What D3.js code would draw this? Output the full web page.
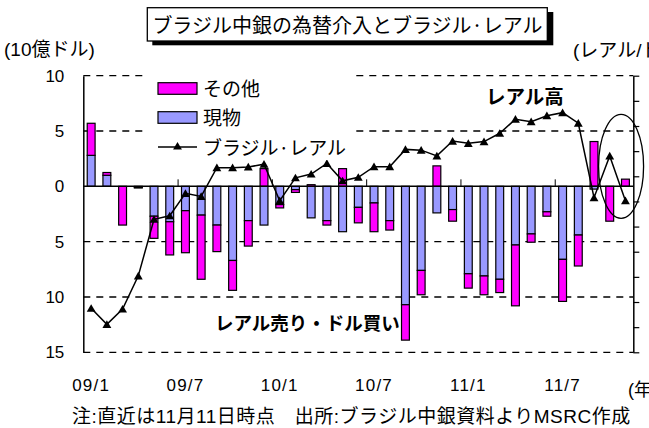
<!DOCTYPE html>
<html lang="ja"><head>
<meta charset="utf-8">
<title>ブラジル中銀の為替介入とブラジル・レアル</title>
<script src="https://cdn.jsdelivr.net/npm/d3@7"></script>
<style>
body { margin: 0; background: #fff; }
text { font-family: "Liberation Sans", "Noto Sans CJK JP", sans-serif; fill: #000; }
</style>
</head>
<body>
<script>
// month categories
var months = ["09/1","09/2","09/3","09/4","09/5","09/6","09/7","09/8","09/9","09/10","09/11","09/12",
              "10/1","10/2","10/3","10/4","10/5","10/6","10/7","10/8","10/9","10/10","10/11","10/12",
              "11/1","11/2","11/3","11/4","11/5","11/6","11/7","11/8","11/9","11/10","11/11"];
// 現物 (10億ドル)
var spot = [2.8, 1.0, 0, -0.1, -2.7, -3.2, -2.2, -2.6, -3.5, -6.7, -3.1, -3.5,
            -1.65, -0.3, -2.85, -3.1, -4.1, -1.9, -1.5, -3.1, -10.7, -7.6, -2.4, -2.1,
            -7.9, -8.1, -8.4, -5.3, -4.3, -2.3, -6.6, -4.4, -0.25, 0, 0];
// その他 (10億ドル)
var other = [2.9, 0.25, -3.5, -0.05, -2.0, -3.0, -3.8, -5.8, -2.4, -2.7, -2.3, 1.6,
             -0.3, -0.25, 0.15, -0.4, 1.6, -1.4, -2.6, -0.85, -3.2, -2.2, 1.85, -1.05,
             -1.3, -1.7, -1.2, -5.5, -0.75, -0.4, -3.8, -2.8, 4.05, -3.15, 0.65];
// ブラジル・レアル (レアル/ドル, 右軸・反転)
var real = [2.325, 2.389, 2.328, 2.196, 1.971, 1.957, 1.868, 1.88, 1.766, 1.766, 1.763, 1.752,
            1.897, 1.806, 1.791, 1.749, 1.818, 1.804, 1.762, 1.762, 1.693, 1.696, 1.719, 1.66,
            1.669, 1.662, 1.629, 1.573, 1.583, 1.559, 1.547, 1.589, 1.885, 1.719, 1.897];
var leftTicks = [10, 5, 0, -5, -10, -15];
var rightTicks = [1.4, 1.5, 1.6, 1.7, 1.8, 1.9, 2.0, 2.1, 2.2, 2.3, 2.4, 2.5];
var xLabels = ["09/1", "09/7", "10/1", "10/7", "11/1", "11/7"];

var width = 649, height = 428;
var plotL = 83.3, plotR = 633.3, plotT = 75.7, plotB = 352.3;

var svg = d3.select("body").append("svg")
    .attr("width", width).attr("height", height);

var x = d3.scaleBand().domain(months).range([plotL, plotR])
    .paddingInner(0.5).paddingOuter(0.25);
var bw = x.bandwidth();
var xi = d3.scaleLinear().domain([0, months.length]).range([plotL, plotR]);
var yL = d3.scaleLinear().domain([-15, 10]).range([plotB, plotT]);
var yR = d3.scaleLinear().domain([2.5, 1.4]).range([plotB, plotT]);

var rows = months.map(function(m, i){ return {month: m, spot: spot[i], other: other[i], real: real[i]}; });

// dashed grid lines
svg.append("g").selectAll("line")
    .data(leftTicks.filter(function(d){ return d !== 0; })).enter()
    .append("line")
    .attr("x1", plotL).attr("x2", plotR)
    .attr("y1", function(d){ return yL(d); }).attr("y2", function(d){ return yL(d); })
    .attr("stroke", "#000").attr("stroke-width", 1.3)
    .attr("stroke-dasharray", "7,6");

// annotations (bars are drawn over them)
svg.append("text").attr("x", 215).attr("y", 330)
    .attr("font-size", 18.5).attr("font-weight", "bold")
    .style("font-family", "'Noto Sans CJK JP'")
    .text("レアル売り・ドル買い");
svg.append("text").attr("x", 486).attr("y", 104)
    .attr("font-size", 19.5).attr("font-weight", "bold")
    .style("font-family", "'Noto Sans CJK JP'")
    .text("レアル高");

// stacked bars
var stack = d3.stack().keys(["spot", "other"]).offset(d3.stackOffsetDiverging);
var series = stack(rows);
var colors = {spot: "#9999ff", other: "#ff00ff"};

svg.append("g").selectAll("g")
    .data(series).enter().append("g")
    .attr("fill", function(s){ return colors[s.key]; })
    .selectAll("rect")
    .data(function(s){ return s.filter(function(d){ return d[1] - d[0] !== 0; }); }).enter()
    .append("rect")
    .attr("x", function(d){ return x(d.data.month); })
    .attr("width", bw)
    .attr("y", function(d){ return yL(Math.max(d[0], d[1])); })
    .attr("height", function(d){ return Math.abs(yL(d[0]) - yL(d[1])); })
    .attr("stroke", "#000").attr("stroke-width", 1.2);

// zero line
svg.append("line")
    .attr("x1", plotL).attr("x2", plotR)
    .attr("y1", yL(0)).attr("y2", yL(0))
    .attr("stroke", "#000").attr("stroke-width", 1.5);

// small ticks on zero line
svg.append("g")
    .attr("transform", "translate(0," + yL(0) + ")")
    .call(d3.axisBottom(xi).tickValues([6, 12, 18, 24, 30]).tickSize(-7).tickFormat(""))
    .call(function(g){ g.select(".domain").remove(); });

// left axis
svg.append("g")
    .attr("transform", "translate(" + plotL + ",0)")
    .call(d3.axisLeft(yL).tickValues(leftTicks).tickSize(0).tickPadding(19)
          .tickFormat(function(d){ return Math.abs(d); }))
    .call(function(g){
      g.select(".domain").attr("stroke-width", 1.5);
      g.selectAll("text").attr("font-size", 17).style("font-family", "'Liberation Sans'");
    });

// right axis
svg.append("g")
    .attr("transform", "translate(" + plotR + ",0)")
    .call(d3.axisRight(yR).tickValues(rightTicks).tickSize(6).tickSizeOuter(0).tickFormat(""))
    .call(function(g){
      g.select(".domain").attr("stroke-width", 1.5);
      g.selectAll(".tick line").attr("stroke-width", 1.2);
    });

// x labels
svg.append("g")
    .attr("transform", "translate(0," + (plotB + 20) + ")")
    .call(d3.axisBottom(x).tickValues(xLabels).tickSize(0).tickPadding(0))
    .call(function(g){
      g.select(".domain").remove();
      g.selectAll("text").attr("font-size", 17).attr("dy", "1.1em")
        .attr("letter-spacing", 1.2)
        .style("font-family", "'Liberation Sans'");
    });

// real line
var line = d3.line()
    .x(function(d){ return x(d.month) + bw / 2; })
    .y(function(d){ return yR(d.real); });
svg.append("path").datum(rows)
    .attr("d", line)
    .attr("fill", "none").attr("stroke", "#000").attr("stroke-width", 1.5);
svg.append("g").selectAll("path")
    .data(rows).enter().append("path")
    .attr("d", d3.symbol(d3.symbolTriangle, 34))
    .attr("transform", function(d){ return "translate(" + (x(d.month) + bw / 2) + "," + (yR(d.real) + 1) + ")"; })
    .attr("fill", "#000");

// ellipse around recent months
svg.append("ellipse")
    .attr("cx", (x("11/10") + x("11/11")) / 2 + bw / 2 + 3.5)
    .attr("cy", 166.3).attr("rx", 22.5).attr("ry", 52)
    .attr("fill", "none").attr("stroke", "#000").attr("stroke-width", 1.3);

// legend
var legend = svg.append("g");
legend.append("rect").attr("x", 148).attr("y", 68).attr("width", 204).attr("height", 92)
    .attr("fill", "#fff");
var legItems = [{label: "その他", key: "other", y: 88.5}, {label: "現物", key: "spot", y: 117.5}];
legItems.forEach(function(it){
  legend.append("rect").attr("x", 158).attr("y", it.y - 5.8).attr("width", 39).attr("height", 11.6)
      .attr("fill", colors[it.key]).attr("stroke", "#000").attr("stroke-width", 1.2);
  legend.append("text").attr("x", 203).attr("y", it.y + 7.5)
      .attr("font-size", 19).style("font-family", "'Noto Sans CJK JP'").text(it.label);
});
legend.append("line").attr("x1", 158).attr("x2", 197).attr("y1", 147).attr("y2", 147)
    .attr("stroke", "#000").attr("stroke-width", 1.5);
legend.append("path").attr("d", d3.symbol(d3.symbolTriangle, 34))
    .attr("transform", "translate(177.5,147)");
legend.append("text").attr("x", 203).attr("y", 155)
    .attr("font-size", 19).style("font-family", "'Noto Sans CJK JP'").text("ブラジル·レアル");

// title box with shadow
svg.append("rect").attr("x", 152.3).attr("y", 12).attr("width", 401).attr("height", 33.3).attr("fill", "#000");
svg.append("rect").attr("x", 147.3).attr("y", 7.7).attr("width", 400).attr("height", 33.3)
    .attr("fill", "#fff").attr("stroke", "#000").attr("stroke-width", 1.3);
svg.append("text").attr("x", 347.5).attr("y", 33).attr("text-anchor", "middle")
    .attr("font-size", 20).style("font-family", "'Noto Sans CJK JP'")
    .text("ブラジル中銀の為替介入とブラジル·レアル");

// axis unit labels
svg.append("text").attr("x", 4).attr("y", 56).attr("font-size", 19).text("(10億ドル)");
svg.append("text").attr("x", 573).attr("y", 57).attr("font-size", 19).text("(レアル/ドル)");
svg.append("text").attr("x", 628).attr("y", 396).attr("font-size", 18).text("(年)");

// footnote
svg.append("text").attr("x", 72).attr("y", 423).attr("font-size", 19)
    .attr("letter-spacing", 0.5)
    .text("注:直近は11月11日時点\u3000出所:ブラジル中銀資料よりMSRC作成");
</script>
</body></html>
